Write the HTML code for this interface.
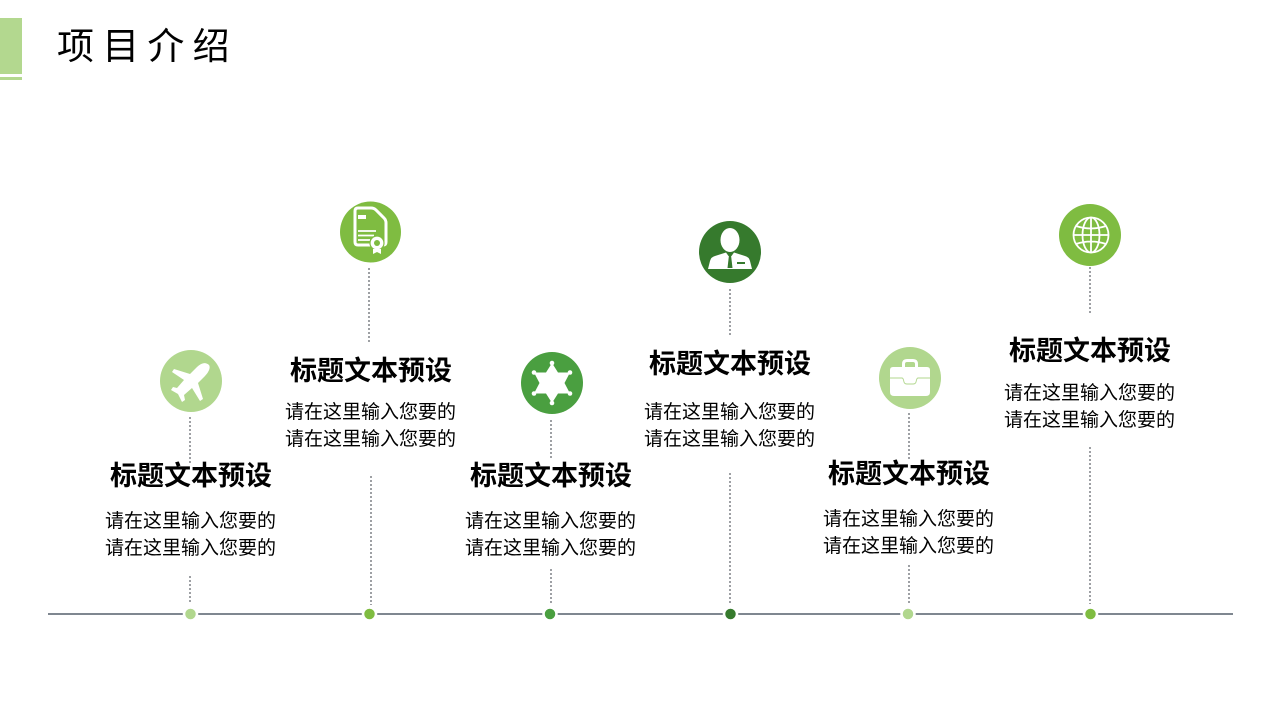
<!DOCTYPE html>
<html lang="zh"><head><meta charset="utf-8"><style>
html,body{margin:0;padding:0;background:#fff}
#p{position:relative;width:1280px;height:720px;overflow:hidden;background:#fff;font-family:"Liberation Sans","Noto Sans CJK SC",sans-serif;color:#000}
svg{position:absolute;left:0;top:0}
.t,.h,.b{position:absolute;white-space:nowrap}
.t{left:57px;top:20px;font-size:37px;line-height:54px;letter-spacing:8.2px}
.h{width:200px;text-align:center;font-size:27px;line-height:36px;font-weight:700}
.b{width:200px;text-align:center;font-size:19px;line-height:27px}
</style></head><body><div id="p">
<svg width="1280" height="720" viewBox="0 0 1280 720">
<rect x="0" y="18" width="22" height="56" fill="#b3d88f"/>
<rect x="0" y="77" width="22" height="3" fill="#b3d88f"/>
<line x1="48" y1="614" x2="1233" y2="614" stroke="#7f8790" stroke-width="2"/>
<g stroke="#85898d" stroke-width="1.6" stroke-dasharray="2 2" fill="none">
<path d="M190 417V465M190 576V603M369 268V344M371 476V605M551 420V460M551 569V604M730 289V336M730 473V605M909 413V460M909 565V605M1090 267V313M1090 447V604"/>
</g>
<g stroke="#fff" stroke-width="2.5">
<circle cx="190.500" cy="614" r="6.500" fill="#b1d78e"/>
<circle cx="369.500" cy="614" r="6.500" fill="#7fbc41"/>
<circle cx="550" cy="614" r="6.500" fill="#4a9f40"/>
<circle cx="730.500" cy="614" r="6.500" fill="#367a2d"/>
<circle cx="908" cy="614" r="6.500" fill="#b1d78e"/>
<circle cx="1090.500" cy="614" r="6.500" fill="#7fbc41"/>
</g>
<circle cx="191" cy="381" r="31" fill="#b1d78e"/>
<path d="M209 365C205 361 200 364 197 367L190 374L174 369L172 372L184 380L177 388L173 387L171 390L178 394L182 402L185 400L184 395L192 388L200 401L203 399L198 383L205 376C208 373 211 368 209 365Z" fill="#fff"/>
<circle cx="370.500" cy="232" r="30.500" fill="#7fbc41"/>
<path d="M358 208H371Q374 208 376 210L384 218Q386 220 386 223V242Q386 245 383 245H358Q355 245 355 242V211Q355 208 358 208Z" fill="#7fbc41" stroke="#fff" stroke-width="3"/>
<rect x="358" y="215" width="8" height="4" fill="#fff"/>
<g stroke="#fff" stroke-width="1.700"><path d="M358 231H376M358 235.500H374M358 240H370"/></g>
<circle cx="377" cy="243" r="7" fill="#fff" stroke="#7fbc41" stroke-width="1.200"/>
<circle cx="377" cy="243" r="3" fill="#7fbc41"/>
<path d="M373 249V254L377 252L381 254V249Z" fill="#fff"/>
<circle cx="552" cy="383" r="31" fill="#4a9f40"/>
<path d="M552 363L558 372.500L570 372.500L564.500 383L570 393.500L558 393.500L552 403L546 393.500L534 393.500L539.500 383L534 372.500L546 372.500Z" fill="#fff"/>
<g fill="#fff"><circle cx="552" cy="363" r="2.300"/><circle cx="570" cy="372.500" r="2.300"/><circle cx="570" cy="393.500" r="2.300"/><circle cx="552" cy="403" r="2.300"/><circle cx="534" cy="393.500" r="2.300"/><circle cx="534" cy="372.500" r="2.300"/></g>
<circle cx="730" cy="252" r="31" fill="#367a2d"/>
<ellipse cx="730" cy="240" rx="9.500" ry="12" fill="#fff"/>
<path d="M708 269L710 261Q711 257 715 256L726 252.500L728.500 256H731.500L734 252.500L745 256Q749 257 750 261L752 269Z" fill="#fff"/>
<path d="M729 255H731L732.500 268H727.500Z" fill="#367a2d"/>
<rect x="737" y="262" width="8" height="2" fill="#367a2d"/>
<circle cx="910" cy="378" r="31" fill="#b1d78e"/>
<path d="M903.500 367V364Q903.500 360.500 907 360.500H913Q916.500 360.500 916.500 364V367" fill="none" stroke="#fff" stroke-width="3"/>
<path d="M893 367H927Q930 367 930 370V392Q930 396 926 396H894Q890 396 890 392V370Q890 367 893 367Z" fill="#fff"/>
<path d="M890 378H902Q903 378 903.500 380L904 382Q904.500 384 907 384H913Q915.500 384 916 382L916.500 380Q917 378 918 378H930" fill="none" stroke="#b1d78e" stroke-width="0.900"/>
<circle cx="1090" cy="235" r="31" fill="#7fbc41"/>
<g fill="none" stroke="#fff" stroke-width="1.800">
<circle cx="1091" cy="235" r="17.500"/>
<ellipse cx="1091" cy="235" rx="8.500" ry="17.500"/>
<path d="M1091 217.500V252.500M1073.500 235H1108.500M1076 226Q1091 231 1106 226M1076 244Q1091 239 1106 244"/>
</g>
</svg>
<div class="t">项目介绍</div>
<div class="h" style="left:91px;top:458px">标题文本预设</div>
<div class="b" style="left:90.500px;top:508px">请在这里输入您要的<br>请在这里输入您要的</div>
<div class="h" style="left:271px;top:353px">标题文本预设</div>
<div class="b" style="left:270.500px;top:399px">请在这里输入您要的<br>请在这里输入您要的</div>
<div class="h" style="left:451px;top:458px">标题文本预设</div>
<div class="b" style="left:450.500px;top:508px">请在这里输入您要的<br>请在这里输入您要的</div>
<div class="h" style="left:630px;top:346px">标题文本预设</div>
<div class="b" style="left:629.500px;top:399px">请在这里输入您要的<br>请在这里输入您要的</div>
<div class="h" style="left:809px;top:456px">标题文本预设</div>
<div class="b" style="left:808.500px;top:506px">请在这里输入您要的<br>请在这里输入您要的</div>
<div class="h" style="left:990px;top:333px">标题文本预设</div>
<div class="b" style="left:989.500px;top:380px">请在这里输入您要的<br>请在这里输入您要的</div>
</div></body></html>
